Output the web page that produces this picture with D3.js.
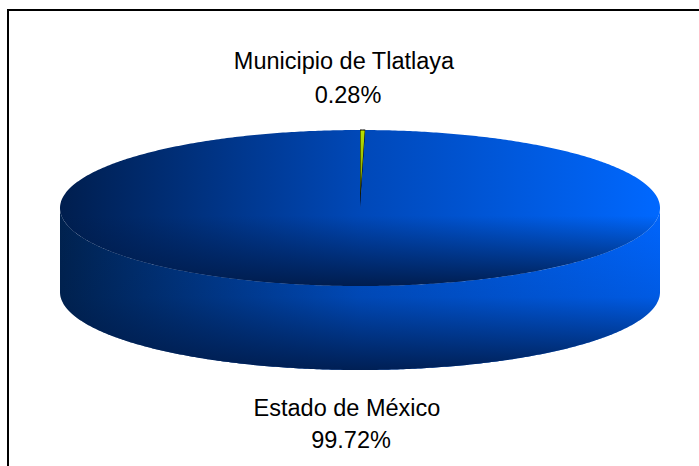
<!DOCTYPE html>
<html>
<head>
<meta charset="utf-8">
<script src="https://cdn.jsdelivr.net/npm/d3@7"></script>
<style>
  body { margin: 0; background: #fff; }
  svg { display: block; }
</style>
</head>
<body>
<div id="plot"></div>
<script>
// datos del gráfico
var categories = ["Municipio de Tlatlaya", "Estado de México"];
var values = [0.28, 99.72];
var percentLabels = ["0.28%", "99.72%"];

var width = 699, height = 466;
var cx = 360, cy = 208, rx = 300, ry = 78, depth = 84;

var svg = d3.select("#plot")
  .append("svg")
  .attr("width", width)
  .attr("height", height);

var defs = svg.append("defs");

function addGradient(id, x1, y1, x2, y2, stops) {
  var g = defs.append("linearGradient")
    .attr("id", id)
    .attr("gradientUnits", "userSpaceOnUse")
    .attr("x1", x1).attr("y1", y1).attr("x2", x2).attr("y2", y2);
  stops.forEach(function (s) {
    g.append("stop").attr("offset", s[0]).attr("stop-color", s[1]).attr("stop-opacity", s[2] == null ? 1 : s[2]);
  });
}

// degradados (tipo Excel)
addGradient("topH", cx - rx, 0, cx + rx, 0, [[0, "#001e4e"], [0.5, "#0048b8"], [1, "#0068ff"]]);
addGradient("topV", 0, cy - ry, 0, cy + ry, [[0, "#001b4a", 0], [0.55, "#001b4a", 0], [1, "#001b4a", 0.95]]);
addGradient("sideH", cx - rx, 0, cx + rx, 0, [[0, "#00224f"], [0.5, "#0050c8"], [1, "#0066ff"]]);
addGradient("sideV", 0, cy, 0, cy + ry + depth, [[0, "#001a48", 0], [0.55, "#001a48", 0.15], [1, "#001a48", 0.9]]);
addGradient("yellow", cx, cy - ry, cx, cy, [[0, "#b8e000"], [0.6, "#8fb000"], [1, "#202800"]]);

// marco
svg.append("rect")
  .attr("x", 8).attr("y", 10)
  .attr("width", width + 10).attr("height", height + 10)
  .attr("fill", "none")
  .attr("stroke", "#000")
  .attr("stroke-width", 2);

var x = d3.scaleLinear().domain([-1, 1]).range([cx - rx, cx + rx]);
var y = d3.scaleLinear().domain([-1, 1]).range([cy - ry, cy + ry]);

function pt(a, dz) {
  return [x(Math.sin(a)), y(-Math.cos(a)) + (dz || 0)];
}

function arcPoints(a0, a1, dz) {
  var n = Math.max(2, Math.ceil(Math.abs(a1 - a0) / 0.01));
  var pts = [];
  for (var i = 0; i <= n; i++) {
    pts.push(pt(a0 + (a1 - a0) * i / n, dz));
  }
  return pts;
}

var pie = d3.pie().sort(null).value(function (d) { return d; });
var arcs = pie(values);
var line = d3.line();

// pared frontal visible
var sideG = svg.append("g");
arcs.forEach(function (d) {
  var a0 = Math.max(d.startAngle, Math.PI / 2);
  var a1 = Math.min(d.endAngle, Math.PI * 3 / 2);
  if (a1 <= a0) return;
  var pts = arcPoints(a0, a1, 0).concat(arcPoints(a1, a0, depth));
  sideG.append("path").attr("d", line(pts) + "Z").attr("fill", "url(#sideH)");
  sideG.append("path").attr("d", line(pts) + "Z").attr("fill", "url(#sideV)");
});

// caras superiores
var topG = svg.append("g");
arcs.forEach(function (d, i) {
  var pts = [[cx, cy]].concat(arcPoints(d.startAngle, d.endAngle, 0));
  if (i == 0) {
    topG.append("path").attr("d", line(pts) + "Z")
      .attr("fill", "url(#yellow)")
      .attr("stroke", "#000")
      .attr("stroke-width", 1);
  } else {
    topG.append("path").attr("d", line(pts) + "Z").attr("fill", "url(#topH)");
    topG.append("path").attr("d", line(pts) + "Z").attr("fill", "url(#topV)");
  }
});

// etiquetas
var labelPos = [
  { x: 344, y: 69, dy: 34 },
  { x: 347, y: 416, dy: 32 }
];
var labelG = svg.append("g")
  .attr("font-family", "'Liberation Sans', Arial, sans-serif")
  .attr("font-size", "23.5px")
  .attr("fill", "#000")
  .attr("text-anchor", "middle");

categories.forEach(function (c, i) {
  labelG.append("text").attr("x", labelPos[i].x).attr("y", labelPos[i].y).text(c);
  labelG.append("text").attr("x", labelPos[i].x + 4).attr("y", labelPos[i].y + labelPos[i].dy).text(percentLabels[i]);
});
</script>
</body>
</html>
